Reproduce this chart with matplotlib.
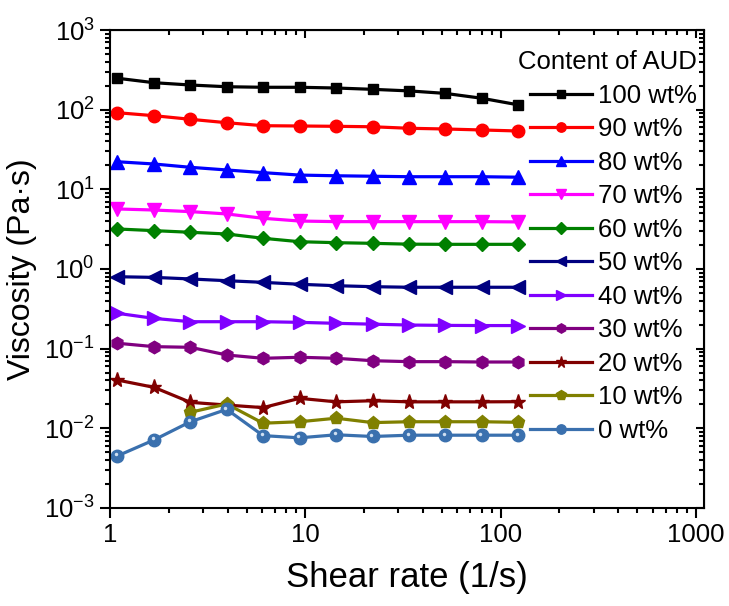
import matplotlib
matplotlib.use("Agg")
import matplotlib.pyplot as plt
import matplotlib.ticker as ticker
import matplotlib.transforms as mtransforms
import numpy as np

plt.rcParams['font.family'] = ['Liberation Sans', 'DejaVu Sans']
plt.rcParams['mathtext.fontset'] = 'custom'
plt.rcParams['mathtext.rm'] = 'Liberation Sans'
plt.rcParams['mathtext.it'] = 'Liberation Sans:italic'
plt.rcParams['mathtext.bf'] = 'Liberation Sans:bold'

# shear rate points (1/s)
shear = [1.09, 1.68, 2.58, 3.96, 6.08, 9.35, 14.4, 22.1, 34.0, 52.2, 80.2, 123]

labels = ['100 wt%', '90 wt%', '80 wt%', '70 wt%', '60 wt%', '50 wt%',
          '40 wt%', '30 wt%', '20 wt%', '10 wt%', '0 wt%']

# viscosity (Pa.s) per AUD content
v100 = [248, 218, 204, 194, 191, 191, 187, 180, 172, 160, 139, 115]
v90 = [91.6, 84, 75.7, 68.6, 62.9, 62.4, 61.8, 61, 58.4, 57.2, 55.6, 54]
v80 = [22.2, 20.8, 18.9, 17.5, 16.2, 15.1, 14.8, 14.6, 14.4, 14.4, 14.4, 14.2]
v70 = [5.67, 5.5, 5.25, 4.91, 4.33, 4.0, 3.93, 3.93, 3.93, 3.93, 3.93, 3.9]
v60 = [3.18, 3.03, 2.89, 2.75, 2.43, 2.2, 2.14, 2.1, 2.05, 2.04, 2.04, 2.04]
v50 = [0.80, 0.785, 0.75, 0.713, 0.68, 0.643, 0.617, 0.6, 0.59, 0.59, 0.59, 0.59]
v40 = [0.278, 0.240, 0.218, 0.218, 0.218, 0.214, 0.208, 0.203, 0.198, 0.196, 0.195, 0.195]
v30 = [0.117, 0.106, 0.104, 0.0833, 0.0757, 0.078, 0.0757, 0.0706, 0.0687, 0.0687, 0.068, 0.068]
v20 = [0.0404, 0.0327, 0.0212, 0.0196, 0.0182, 0.0238, 0.0215, 0.0222, 0.0215, 0.0215, 0.0215, 0.0216]
v10 = [np.nan, np.nan, 0.0159, 0.0202, 0.0116, 0.0121, 0.0134, 0.0118, 0.0121, 0.0121, 0.0121, 0.0119]
v0 = [0.0045, 0.00715, 0.0121, 0.0173, 0.0081, 0.0076, 0.0083, 0.0079, 0.0082, 0.0082, 0.0082, 0.0082]

series = [v100, v90, v80, v70, v60, v50, v40, v30, v20, v10, v0]
colors = ['#000000', '#FF0000', '#0000FF', '#FF00FF', '#008000', '#000080',
          '#8000FF', '#800080', '#800000', '#808000', '#3A70AE']
markers = ['s', 'o', '^', 'v', 'D', '<', '>', 'h', '*', 'p', 'o']
msizes = [7.5, 9, 9.5, 9.5, 7.5, 9.5, 9.5, 9, 11, 9.5, 9]

fig = plt.figure(figsize=(7.29, 6.06), dpi=100)
ax = fig.add_axes([110 / 729, 1 - 508 / 606, 594 / 729, 478 / 606])

for vals, lab, c, m, ms in zip(series, labels, colors, markers, msizes):
    ax.plot(shear, vals, color=c, marker=m, markersize=ms, lw=2.3, label=lab)
# little highlight on the 0 wt% spheres (upper left)
shine = mtransforms.offset_copy(ax.transData, fig=fig, x=-1.5, y=1.5, units='dots')
ax.plot(shear, v0, ls='none', marker='o', markersize=2.5, color='#cfdff1',
        markeredgewidth=0, transform=shine)

ax.set_xscale('log')
ax.set_yscale('log')
ax.set_xlim(1, 1100)
ax.set_ylim(1e-3, 1e3)
ax.xaxis.set_major_formatter(ticker.FuncFormatter(lambda v, p: f'{v:g}'))
ax.xaxis.set_minor_formatter(ticker.NullFormatter())
ax.yaxis.set_minor_formatter(ticker.NullFormatter())
ax.yaxis.set_major_locator(ticker.LogLocator(base=10, numticks=20))
ax.yaxis.set_minor_locator(ticker.LogLocator(base=10, subs=np.arange(2, 10), numticks=20))

ax.tick_params(which='both', direction='out', width=1.5, labelsize=18.5, pad=4,
               top=False, right=False)
ax.tick_params(which='major', length=7)
ax.tick_params(which='minor', length=3.5)
for s in ax.spines.values():
    s.set_linewidth(1.5)

# mirrored ticks pointing inward on top and right
top = ax.secondary_xaxis('top')
right = ax.secondary_yaxis('right')
for sec in (top, right):
    sec.tick_params(which='both', direction='in', width=1.5, labelsize=0)
    sec.tick_params(which='major', length=6)
    sec.tick_params(which='minor', length=3.5)
top.xaxis.set_major_formatter(ticker.NullFormatter())
top.xaxis.set_minor_formatter(ticker.NullFormatter())
right.yaxis.set_major_formatter(ticker.NullFormatter())
right.yaxis.set_minor_formatter(ticker.NullFormatter())
right.yaxis.set_major_locator(ticker.LogLocator(base=10, numticks=20))
right.yaxis.set_minor_locator(ticker.LogLocator(base=10, subs=np.arange(2, 10), numticks=20))

ax.set_xlabel('Shear rate (1/s)', fontsize=25, labelpad=10)
ax.set_ylabel('Viscosity (Pa·s)', fontsize=23, labelpad=5)

leg = ax.legend(title='Content of AUD', loc='upper right',
                bbox_to_anchor=(1 - 7 / 594, 1 - 20 / 478), frameon=False,
                fontsize=18.5, title_fontsize=18.5, alignment='right',
                handlelength=2.4, handletextpad=0.25, labelspacing=0.37,
                borderpad=0, borderaxespad=0, markerscale=0.75)

fig.savefig('out.png', dpi=100)
